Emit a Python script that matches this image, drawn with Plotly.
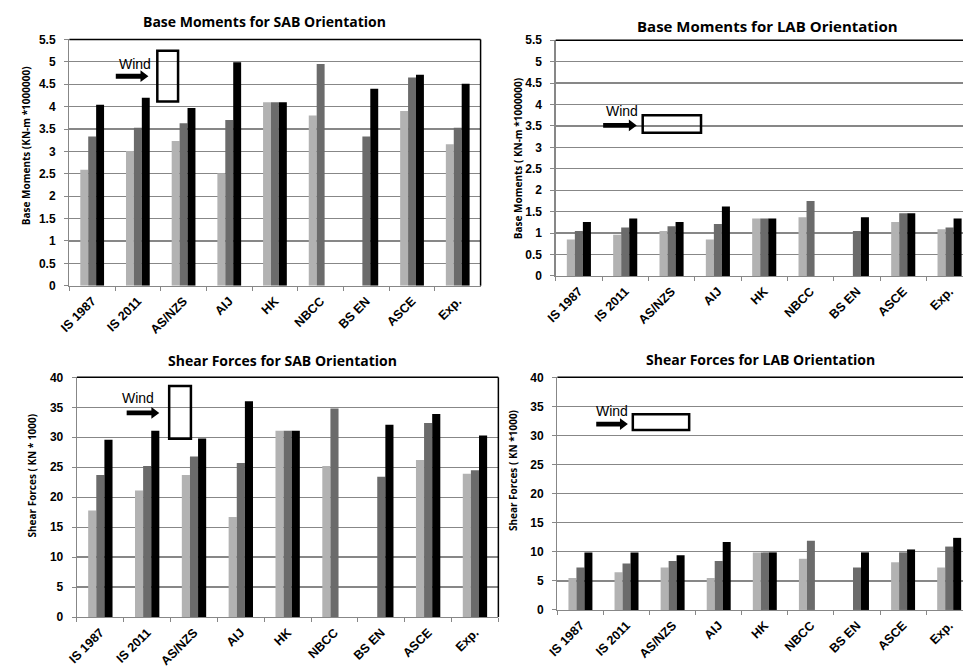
import plotly.graph_objects as go

W, H = 963, 668

categories = ["IS 1987", "IS 2011", "AS/NZS", "AIJ", "HK", "NBCC", "BS EN", "ASCE", "Exp."]

# Base moments, SAB orientation (KN-m * 1e6) -- three series per code
bm_sab_light = [2.59, 3.01, 3.23, 2.51, 4.10, 3.80, None, 3.90, 3.16]
bm_sab_dark = [3.33, 3.53, 3.63, 3.70, 4.10, 4.95, 3.33, 4.65, 3.53]
bm_sab_black = [4.04, 4.20, 3.97, 4.99, 4.10, None, 4.40, 4.71, 4.51]

# Base moments, LAB orientation
bm_lab_light = [0.85, 0.96, 1.05, 0.85, 1.34, 1.37, None, 1.26, 1.09]
bm_lab_dark = [1.05, 1.13, 1.16, 1.21, 1.34, 1.75, 1.05, 1.46, 1.13]
bm_lab_black = [1.26, 1.34, 1.26, 1.62, 1.34, None, 1.37, 1.46, 1.34]

# Shear forces, SAB orientation (KN * 1000)
sf_sab_light = [17.8, 21.1, 23.7, 16.7, 31.1, 25.2, None, 26.2, 23.9]
sf_sab_dark = [23.7, 25.2, 26.8, 25.7, 31.1, 34.8, 23.4, 32.4, 24.5]
sf_sab_black = [29.6, 31.1, 29.8, 36.0, 31.1, None, 32.1, 33.9, 30.3]

# Shear forces, LAB orientation
sf_lab_light = [5.5, 6.5, 7.3, 5.5, 9.9, 8.8, None, 8.2, 7.3]
sf_lab_dark = [7.3, 8.0, 8.4, 8.4, 9.9, 11.9, 7.3, 9.9, 10.9]
sf_lab_black = [9.9, 9.9, 9.4, 11.7, 9.9, None, 9.9, 10.4, 12.4]

titles = ["Base Moments for SAB Orientation", "Base Moments for LAB Orientation",
          "Shear Forces for SAB Orientation", "Shear Forces for LAB Orientation"]
ytitles = ["Base Moments (KN-m *1000000)", "Base Moments ( KN-m *1000000)",
           "Shear Forces ( KN * 1000)", "Shear Forces ( KN *1000)"]

colors = ["#b2b2b2", "#6b6b6b", "#000000"]
GRID = "#878787"

def px(x):
    return x / W

def py(y):
    return 1 - y / H

# panel geometry in pixels: (left, right, top, bottom)
panels = [
    (59, 475, 33.3, 286),
    (551, 963, 34, 276),
    (66.7, 493, 380, 626),
    (552.7, 963, 380, 618.7),
]
xranges = [[-0.5, 8.5], [-0.5, 8.29], [-0.5, 8.5], [-0.5, 8.30]]
yranges = [[0, 5.5], [0, 5.5], [0, 40], [0, 40]]
dticks = [0.5, 0.5, 5, 5]

data_sets = [
    (bm_sab_light, bm_sab_dark, bm_sab_black),
    (bm_lab_light, bm_lab_dark, bm_lab_black),
    (sf_sab_light, sf_sab_dark, sf_sab_black),
    (sf_lab_light, sf_lab_dark, sf_lab_black),
]

fig = go.Figure()
layout = dict(
    width=W, height=H, margin=dict(l=0, r=0, t=0, b=0),
    paper_bgcolor="white", plot_bgcolor="white",
    barmode="group", bargap=0.48, bargroupgap=0,
    showlegend=False,
    font=dict(family="Liberation Sans, Arial, sans-serif", color="#000"),
)

shapes = []
annotations = []

for i, (l, r, t, b) in enumerate(panels):
    n = "" if i == 0 else str(i + 1)
    xa, ya = "x" + n, "y" + n
    for s, vals in enumerate(data_sets[i]):
        fig.add_trace(go.Bar(x=categories, y=vals, marker=dict(color=colors[s], line=dict(width=0)),
                             xaxis=xa, yaxis=ya, offsetgroup=str(s), cliponaxis=True,
                             hoverinfo="skip"))
    layout["xaxis" + n] = dict(
        domain=[px(l), px(r)], anchor=ya, type="category", range=xranges[i],
        showline=True, linecolor=GRID, linewidth=1.3,
        ticks="outside", tickson="boundaries", ticklen=4, tickcolor=GRID,
        tickangle=-45, ticklabelstandoff=2,
        tickfont=dict(size=12.5, family="Liberation Sans", color="#000", weight="bold"),
        showgrid=False, zeroline=False, fixedrange=True,
    )
    layout["yaxis" + n] = dict(
        domain=[py(b), py(t)], anchor=xa, range=yranges[i], dtick=dticks[i],
        showline=True, linecolor=GRID, linewidth=1.3,
        ticks="outside", ticklen=4, tickcolor=GRID, ticklabelstandoff=6,
        tickfont=dict(size=12, family="Liberation Sans", color="#000", weight="bold"),
        showgrid=True, gridcolor=GRID, gridwidth=1.3, zeroline=False, fixedrange=True,
    )
    # black frame lines on top (and right if visible)
    shapes.append(dict(type="line", xref="paper", yref="paper",
                       x0=px(l), x1=px(r), y0=py(t), y1=py(t),
                       line=dict(color="#000", width=1.5)))
    if r < W - 1:
        shapes.append(dict(type="line", xref="paper", yref="paper",
                           x0=px(r), x1=px(r), y0=py(t), y1=py(b),
                           line=dict(color="#000", width=1.5)))

# titles
title_pos = [(256, 15), (765, 19), (275, 363), (758, 362)]
title_sizes = [14, 15, 14, 14]
for (tx, ty), txt, fs in zip(title_pos, titles, title_sizes):
    annotations.append(dict(text="<b>" + txt + "</b>", xref="paper", yref="paper",
                            x=px(tx), y=py(ty), xanchor="center", yanchor="middle",
                            showarrow=False, font=dict(size=fs, family="Open Sans", color="#000")))

ytitle_pos = [(16, 142), (513, 156), (21, 481), (508, 476)]
for (tx, ty), txt in zip(ytitle_pos, ytitles):
    annotations.append(dict(text="<b>" + txt + "</b>", xref="paper", yref="paper",
                            x=px(tx), y=py(ty), xanchor="center", yanchor="middle",
                            textangle=-90, showarrow=False,
                            font=dict(size=10, family="Open Sans", color="#000")))

# wind markers: (text center x, text center y, arrow x0, arrow tip x, arrow center y, rect x0,x1,y0,y1)
winds = [
    (125, 58, 106, 139, 71, 148, 169, 45, 97),
    (618, 107, 599, 633, 121.5, 639, 698, 111, 129),
    (128, 401, 117, 150, 416.5, 160, 182, 389, 443),
    (608, 415, 592, 624, 428, 629, 686, 418, 434),
]
for (tcx, tcy, ax0, ax1, acy, rx0, rx1, ry0, ry1) in winds:
    annotations.append(dict(text="Wind", xref="paper", yref="paper", x=px(tcx), y=py(tcy),
                            xanchor="center", yanchor="middle", showarrow=False,
                            font=dict(size=14, family="Liberation Sans", color="#000")))
    hw = 2.5   # half body height
    hh = 6     # half head height
    hl = 8     # head length
    pts = [(ax0, acy - hw), (ax1 - hl, acy - hw), (ax1 - hl, acy - hh), (ax1, acy),
           (ax1 - hl, acy + hh), (ax1 - hl, acy + hw), (ax0, acy + hw)]
    path = "M " + " L ".join(f"{px(x):.5f},{py(y):.5f}" for x, y in pts) + " Z"
    shapes.append(dict(type="path", xref="paper", yref="paper", path=path,
                       fillcolor="#000", line=dict(color="#000", width=0)))
    shapes.append(dict(type="rect", xref="paper", yref="paper",
                       x0=px(rx0), x1=px(rx1), y0=py(ry1), y1=py(ry0),
                       line=dict(color="#000", width=2.5), fillcolor="rgba(0,0,0,0)"))

layout["shapes"] = shapes
layout["annotations"] = annotations
fig.update_layout(**layout)
fig.write_html("out.html", config={"displayModeBar": False, "staticPlot": True},
               post_script="document.body.style.margin='0';document.body.style.overflow='hidden';")
